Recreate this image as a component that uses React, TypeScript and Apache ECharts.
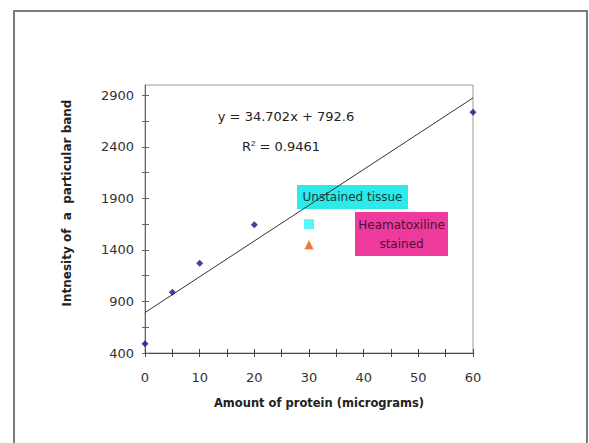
import React, { useEffect, useRef } from "react";
import * as echarts from "echarts";

const proteinAmounts = [0, 5, 10, 20, 60];
const bandIntensities = [490, 990, 1270, 1645, 2735];
const unstainedPoint = [30, 1650];
const stainedPoint = [30, 1450];
const trendSlope = 34.702;
const trendIntercept = 792.6;
const xTickValues = [0, 5, 10, 15, 20, 25, 30, 35, 40, 45, 50, 55, 60];
const xLabelValues = [0, 10, 20, 30, 40, 50, 60];
const yTickValues = [400, 650, 900, 1150, 1400, 1650, 1900, 2150, 2400, 2650, 2900];
const yLabelValues = [400, 900, 1400, 1900, 2400, 2900];
const xRange = [0, 60];
const yRange = [400, 3000];

const FONT = "'DejaVu Sans', sans-serif";

export default function App() {
  const ref = useRef<HTMLDivElement>(null);
  useEffect(() => {
    if (!ref.current) return;
    const chart = echarts.init(ref.current, null, { renderer: "svg" });
    const trendData = xRange.map((x) => [x, trendSlope * x + trendIntercept]);
    const mainData = proteinAmounts.map((x, i) => [x, bandIntensities[i]]);
    const xBase = {
      type: "value",
      position: "bottom",
      min: xRange[0],
      max: xRange[1],
      splitLine: { show: false },
    };
    const yBase = {
      type: "value",
      position: "left",
      min: yRange[0],
      max: yRange[1],
      splitLine: { show: false },
    };
    chart.setOption({
      animation: false,
      backgroundColor: "#ffffff",
      grid: {
        left: 145,
        right: 116,
        top: 85,
        bottom: 90,
        show: true,
        borderColor: "#9a9a9a",
        borderWidth: 1,
        backgroundColor: "transparent",
      },
      xAxis: [
        {
          ...xBase,
          axisLine: { lineStyle: { color: "#444", width: 1 } },
          axisTick: { show: true, inside: false, length: 4, customValues: xTickValues, lineStyle: { color: "#444" } },
          axisLabel: {
            customValues: xLabelValues,
            formatter: (v: number) => String(v),
            margin: 18,
            fontSize: 13,
            color: "#333",
            fontFamily: FONT,
          },
        },
        {
          ...xBase,
          axisLine: { show: false },
          axisTick: { show: true, inside: true, length: 4, customValues: xTickValues, lineStyle: { color: "#444" } },
          axisLabel: { show: false },
        },
      ],
      yAxis: [
        {
          ...yBase,
          axisLine: { lineStyle: { color: "#666", width: 1 } },
          axisTick: { show: true, inside: false, length: 3, customValues: yTickValues, lineStyle: { color: "#666" } },
          axisLabel: {
            customValues: yLabelValues,
            formatter: (v: number) => String(v),
            margin: 11,
            fontSize: 13,
            color: "#333",
            fontFamily: FONT,
          },
        },
        {
          ...yBase,
          axisLine: { show: false },
          axisTick: { show: true, inside: true, length: 4, customValues: yTickValues, lineStyle: { color: "#666" } },
          axisLabel: { show: false },
        },
      ],
      series: [
        {
          type: "line",
          data: trendData,
          showSymbol: false,
          symbol: "none",
          lineStyle: { color: "#333", width: 1 },
          z: 2,
        },
        {
          type: "scatter",
          data: mainData,
          symbol: "diamond",
          symbolSize: 7,
          itemStyle: { color: "#14148c" },
          z: 3,
        },
        {
          type: "scatter",
          data: [unstainedPoint],
          symbol: "rect",
          symbolSize: 10,
          itemStyle: { color: "#2ef2f2" },
          z: 3,
        },
        {
          type: "scatter",
          data: [stainedPoint],
          symbol: "triangle",
          symbolSize: 9,
          itemStyle: { color: "#e8501c", borderColor: "#f2c21a", borderWidth: 0.6 },
          z: 3,
        },
      ],
      graphic: [
        {
          type: "rect",
          shape: { x: 14, y: 11, width: 573, height: 500 },
          style: { fill: "none", stroke: "#7a7a7a", lineWidth: 2 },
          silent: true,
        },
        {
          type: "text",
          x: 286,
          y: 116,
          style: {
            text: "y = 34.702x + 792.6",
            fontSize: 13,
            fontFamily: FONT,
            fill: "#222",
            align: "center",
            verticalAlign: "middle",
          },
        },
        {
          type: "text",
          x: 281,
          y: 146,
          style: {
            text: "R{sup|2} = 0.9461",
            rich: { sup: { fontSize: 8, verticalAlign: "top", padding: [0, 0, 6, 0] } },
            fontSize: 13,
            fontFamily: FONT,
            fill: "#222",
            align: "center",
            verticalAlign: "middle",
          },
        },
        {
          type: "rect",
          shape: { x: 297, y: 185, width: 111, height: 24 },
          style: { fill: "#2de9e9" },
        },
        {
          type: "text",
          x: 352.5,
          y: 197,
          style: {
            text: "Unstained tissue",
            fontSize: 12,
            fontFamily: FONT,
            fill: "#173d3d",
            align: "center",
            verticalAlign: "middle",
          },
        },
        {
          type: "rect",
          shape: { x: 355, y: 212, width: 93, height: 44 },
          style: { fill: "#ee3a9c" },
        },
        {
          type: "text",
          x: 401.5,
          y: 234,
          style: {
            text: "Heamatoxiline\nstained",
            fontSize: 12,
            lineHeight: 19,
            fontFamily: FONT,
            fill: "#4a1236",
            align: "center",
            verticalAlign: "middle",
          },
        },
        {
          type: "text",
          x: 67,
          y: 203,
          rotation: Math.PI / 2,
          style: {
            text: "Intnesity of  a  particular band",
            fontSize: 12,
            fontWeight: "bold",
            fontFamily: FONT,
            fill: "#222",
            align: "center",
            verticalAlign: "middle",
          },
        },
        {
          type: "text",
          x: 319,
          y: 403,
          style: {
            text: "Amount of protein (micrograms)",
            fontSize: 11.5,
            fontWeight: "bold",
            fontFamily: FONT,
            fill: "#222",
            align: "center",
            verticalAlign: "middle",
          },
        },
      ],
    });
    return () => chart.dispose();
  }, []);
  return (
    <div
      ref={ref}
      style={{ position: "fixed", left: 0, top: 0, width: 589, height: 443 }}
    />
  );
}
